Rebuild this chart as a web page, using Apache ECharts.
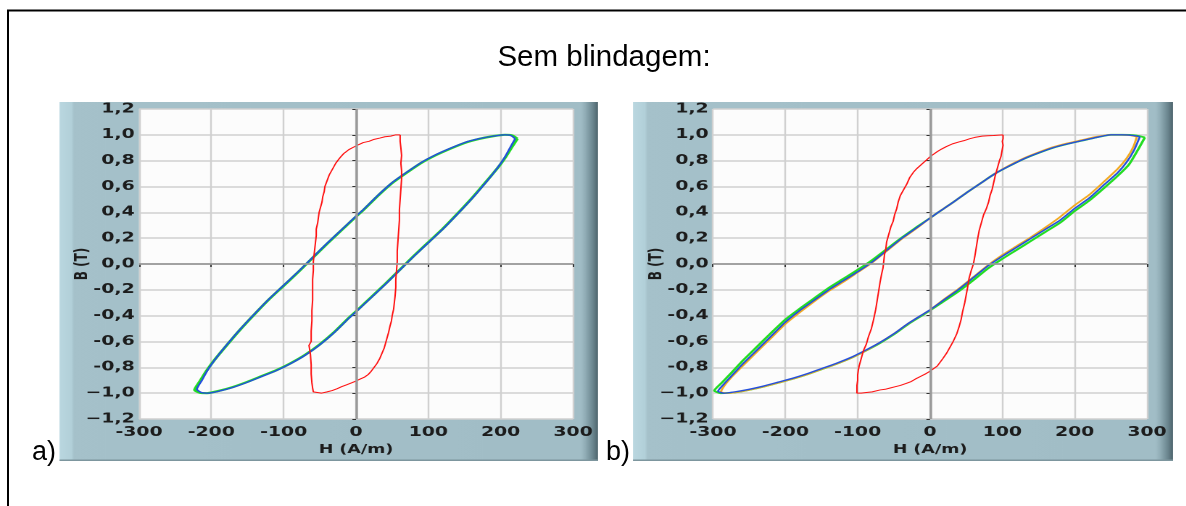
<!DOCTYPE html>
<html><head><meta charset="utf-8">
<script src="https://cdn.jsdelivr.net/npm/echarts@6/dist/echarts.min.js"></script>
<style>
html,body{margin:0;padding:0;background:#fff;overflow:hidden;}
#bg{position:absolute;left:0;top:0;width:1186px;height:506px;}
#plots{position:absolute;left:0;top:0;width:818px;height:506px;transform-origin:0 0;transform:scaleX(1.45);}
</style></head><body>
<div id="bg"></div><div id="plots"></div>
<script>
// ---------- texts ----------
const titleText = 'Sem blindagem:';
const panelLabels = ['a)', 'b)'];
const xName = 'H (A/m)';
const yName = 'B (T)';
const xTickLabels = ['-300','-200','-100','0','100','200','300'];
const yTickLabels = ['\u22121,2','\u22121,0','-0,8','-0,6','-0,4','-0,2','0,0','0,2','0,4','0,6','0,8','1,0','1,2'];

// ---------- chart a) ----------
const aBlueH = [220,214,205,190,170,150,130,110,90,70,50,30,10,0,-20,-40,-60,-80,-100,-120,-140,-160,-180,-195,-205,-213,-220,
  -214,-205,-190,-170,-150,-130,-110,-90,-70,-50,-30,-10,0,20,40,60,80,100,120,140,160,180,195,205,213,220];
const aBlueB = [0.97,0.995,1.0,0.99,0.97,0.94,0.895,0.845,0.785,0.71,0.63,0.53,0.42,0.37,0.265,0.16,0.05,-0.06,-0.165,-0.27,-0.385,-0.505,-0.635,-0.74,-0.82,-0.9,-0.97,
  -0.995,-1.0,-0.985,-0.955,-0.915,-0.87,-0.825,-0.77,-0.705,-0.625,-0.53,-0.42,-0.37,-0.265,-0.16,-0.05,0.06,0.165,0.27,0.385,0.505,0.635,0.74,0.82,0.9,0.97];
const aGreenH = [223,216,206,190,170,150,130,110,90,70,50,30,10,0,-20,-40,-60,-80,-100,-120,-140,-160,-180,-196,-207,-216,-223,
  -216,-206,-190,-170,-150,-130,-110,-90,-70,-50,-30,-10,0,20,40,60,80,100,120,140,160,180,196,207,216,223];
const aGreenB = [0.97,0.995,1.0,0.99,0.968,0.937,0.892,0.842,0.782,0.707,0.627,0.527,0.417,0.367,0.262,0.157,0.047,-0.063,-0.168,-0.272,-0.387,-0.507,-0.637,-0.745,-0.83,-0.91,-0.975,
  -0.997,-1.0,-0.983,-0.952,-0.912,-0.867,-0.822,-0.767,-0.702,-0.622,-0.527,-0.417,-0.367,-0.262,-0.157,-0.047,0.063,0.168,0.273,0.388,0.508,0.638,0.745,0.83,0.91,0.97];
const aRedH = [61,55,48,40,33,25,18,10,4,0,-5,-10,-14,-17,-21,-24,-28,-31,-34,-37,-39,-41,-43,-44,-46,-47,-49,-51,-52,-53,-55,-55,-56,-57,-58,-59,-59,-60,-60,-60,-61,-61,-62,-62,-65,-62,-63,-62,-62,-61,-60,-59,-55,-48,
  -40,-33,-26,-20,-13,-6,0,6,12,17,21,25,29,33,36,39,41,43,45,47,49,50,52,53,54,55,55,56,57,57,58,59,60,60,61,62,63,63,62,63,62,61,61];
const aRedB = [1.0,1.0,0.99,0.985,0.975,0.965,0.95,0.94,0.925,0.915,0.9,0.885,0.87,0.855,0.83,0.81,0.78,0.75,0.72,0.69,0.66,0.63,0.6,0.56,0.52,0.48,0.44,0.4,0.36,0.32,0.27,0.22,0.17,0.12,0.07,0.02,-0.05,-0.12,-0.2,-0.28,-0.36,-0.44,-0.52,-0.6,-0.63,-0.64,-0.7,-0.78,-0.85,-0.92,-0.96,-0.99,-1.0,-1.0,
  -0.99,-0.98,-0.965,-0.95,-0.935,-0.92,-0.906,-0.89,-0.875,-0.855,-0.83,-0.8,-0.77,-0.73,-0.69,-0.65,-0.61,-0.57,-0.53,-0.48,-0.44,-0.4,-0.35,-0.3,-0.25,-0.18,-0.12,-0.05,0.02,0.1,0.18,0.26,0.34,0.42,0.5,0.58,0.66,0.72,0.78,0.84,0.9,0.95,1.0];

// ---------- chart b) ----------
const bBlueH = [290,280,265,250,230,210,190,170,150,130,110,90,70,50,30,10,0,-20,-40,-60,-80,-100,-120,-140,-160,-180,-200,-220,-240,-260,-275,-285,-293,
  -285,-270,-250,-230,-210,-190,-170,-150,-130,-110,-90,-70,-50,-30,-10,0,20,40,60,80,100,120,140,160,180,200,220,240,260,272,282,290];
const bBlueB = [0.985,0.995,1.0,1.0,0.98,0.955,0.93,0.9,0.86,0.815,0.76,0.7,0.625,0.55,0.47,0.395,0.355,0.275,0.195,0.105,0.015,-0.06,-0.13,-0.2,-0.28,-0.36,-0.45,-0.56,-0.67,-0.78,-0.87,-0.93,-0.985,
  -1.0,-0.99,-0.97,-0.945,-0.915,-0.885,-0.85,-0.81,-0.77,-0.725,-0.67,-0.61,-0.54,-0.46,-0.39,-0.355,-0.275,-0.195,-0.105,-0.015,0.06,0.13,0.2,0.27,0.34,0.43,0.51,0.61,0.71,0.79,0.88,0.985];
const bGreenH = [297,285,265,250,230,210,190,170,150,130,110,90,70,50,30,10,0,-20,-40,-60,-80,-100,-120,-140,-160,-180,-200,-220,-240,-260,-275,-288,-298,
  -290,-270,-250,-230,-210,-190,-170,-150,-130,-110,-90,-70,-50,-30,-10,0,20,40,60,80,100,120,140,160,180,200,220,240,260,275,287,297];
const bGreenB = [0.98,0.995,1.0,1.0,0.98,0.955,0.93,0.9,0.86,0.815,0.76,0.7,0.625,0.55,0.47,0.395,0.355,0.28,0.2,0.115,0.03,-0.045,-0.115,-0.185,-0.265,-0.345,-0.43,-0.535,-0.645,-0.755,-0.845,-0.92,-0.98,
  -1.0,-0.995,-0.975,-0.95,-0.92,-0.89,-0.855,-0.815,-0.775,-0.73,-0.675,-0.615,-0.545,-0.465,-0.395,-0.36,-0.285,-0.21,-0.125,-0.035,0.04,0.11,0.18,0.25,0.32,0.41,0.49,0.585,0.685,0.77,0.88,0.98];
const bOrangeH = [286,276,262,248,230,210,190,170,150,130,110,90,70,50,30,10,0,-20,-40,-60,-80,-100,-120,-140,-160,-180,-200,-220,-240,-260,-275,-284,-289,
  -282,-270,-250,-230,-210,-190,-170,-150,-130,-110,-90,-70,-50,-30,-10,0,20,40,60,80,100,120,140,160,180,200,220,240,260,272,281,286];
const bOrangeB = [0.985,0.997,1.0,1.0,0.985,0.96,0.935,0.905,0.865,0.82,0.765,0.7,0.625,0.55,0.47,0.395,0.355,0.27,0.19,0.1,0.01,-0.065,-0.14,-0.21,-0.29,-0.375,-0.465,-0.575,-0.685,-0.795,-0.88,-0.94,-0.99,
  -1.0,-0.995,-0.975,-0.95,-0.92,-0.89,-0.855,-0.815,-0.775,-0.73,-0.675,-0.61,-0.54,-0.46,-0.39,-0.355,-0.27,-0.19,-0.1,-0.01,0.07,0.14,0.21,0.285,0.365,0.455,0.535,0.635,0.74,0.82,0.905,0.985];
const bRedH = [101,95,88,80,72,62,55,47,40,31,23,16,10,5,0,-6,-12,-18,-23,-28,-32,-36,-41,-44,-46,-49,-51,-54,-56,-58,-60,-61,-63,-64,-65,-67,-69,-71,-73,-75,-78,-81,-85,-88,-92,-94,-96,-98,-99,-100,-100,-101,-101,-101,
  -95,-88,-80,-69,-62,-55,-48,-41,-33,-26,-20,-13,-6,0,5,10,14,18,23,28,32,37,40,43,45,48,50,52,54,57,60,62,64,66,68,71,74,78,81,83,86,88,90,92,94,96,98,99,100,101,100,101,101];
const bRedB = [1.0,0.998,0.995,0.993,0.99,0.98,0.97,0.955,0.945,0.93,0.91,0.89,0.87,0.85,0.83,0.8,0.77,0.74,0.71,0.67,0.62,0.58,0.53,0.48,0.43,0.38,0.33,0.29,0.25,0.21,0.17,0.12,0.07,0.02,-0.03,-0.08,-0.14,-0.21,-0.28,-0.35,-0.43,-0.5,-0.56,-0.62,-0.67,-0.71,-0.75,-0.79,-0.82,-0.86,-0.9,-0.94,-0.97,-1.0,
  -1.0,-0.995,-0.99,-0.975,-0.97,-0.96,-0.95,-0.94,-0.925,-0.91,-0.89,-0.87,-0.85,-0.83,-0.81,-0.79,-0.76,-0.73,-0.69,-0.64,-0.6,-0.54,-0.49,-0.43,-0.37,-0.3,-0.24,-0.18,-0.11,-0.05,0.0,0.06,0.13,0.2,0.26,0.32,0.38,0.43,0.48,0.53,0.58,0.63,0.68,0.72,0.76,0.8,0.83,0.86,0.89,0.92,0.95,0.97,1.0];

// ---------- helpers ----------
const S = 1.45; // horizontal stretch of the plot images
const L = x => x / S;
const pairs = (H, B) => H.map((h, i) => [h, B[i]]);
const labelFont = 'DejaVu Sans';

// background: border, title, panel letters
const bg = echarts.init(document.getElementById('bg'));
bg.setOption({
  animation: false,
  graphic: [
    { type: 'line', shape: { x1: 7, y1: 10.5, x2: 1186, y2: 10.5 }, style: { stroke: '#000', lineWidth: 2 } },
    { type: 'line', shape: { x1: 8, y1: 10, x2: 8, y2: 506 }, style: { stroke: '#000', lineWidth: 2 } },
    { type: 'text', x: 604, y: 58, style: { text: titleText, font: '29.5px "Liberation Sans"', fill: '#000', align: 'center', verticalAlign: 'middle' } },
    { type: 'text', x: 32, y: 453, style: { text: panelLabels[0], font: '27px "Liberation Sans"', fill: '#000', align: 'left', verticalAlign: 'middle' } },
    { type: 'text', x: 606, y: 453, style: { text: panelLabels[1], font: '27px "Liberation Sans"', fill: '#000', align: 'left', verticalAlign: 'middle' } }
  ]
});

// plots
const plots = echarts.init(document.getElementById('plots'), null, { devicePixelRatio: 2 });
const panelGrad = () => new echarts.graphic.LinearGradient(0, 0, 1, 0, [
  { offset: 0, color: '#bad7e0' }, { offset: 0.022, color: '#b2d0d9' }, { offset: 0.027, color: '#a5c1ca' },
  { offset: 0.968, color: '#a1bdc6' }, { offset: 0.976, color: '#92aeb7' }, { offset: 0.99, color: '#6c8790' }, { offset: 1, color: '#4d646c' }
]);
function panel(x0, x1) {
  return [
    { type: 'rect', z: -10, shape: { x: L(x0), y: 102, width: L(x1 - x0), height: 359 }, style: { fill: panelGrad() } },
    { type: 'rect', z: -9, shape: { x: L(x0), y: 459.5, width: L(x1 - x0), height: 1.5 }, style: { fill: '#7d969e' } }
  ];
}
const grids = [
  { left: L(139), top: 109, width: L(434), height: 310 },
  { left: L(713), top: 109, width: L(434), height: 310 }
].map(g => Object.assign(g, { show: true, backgroundColor: '#fcfcfc', borderWidth: 0, containLabel: false }));

const tickFont = { fontFamily: labelFont, fontSize: 13, fontWeight: 'bold', color: '#1c1c1c' };
function xAx(gi) {
  return {
    gridIndex: gi, type: 'value', min: -300, max: 300, interval: 100,
    name: xName, nameLocation: 'middle', nameGap: 25, nameMoveOverlap: false,
    nameTextStyle: { fontFamily: labelFont, fontSize: 12, fontWeight: 'bold', color: '#1c1c1c' },
    axisLine: { show: false },
    axisTick: { show: true, length: 3, lineStyle: { color: '#333' } },
    axisLabel: Object.assign({ margin: 7, formatter: v => xTickLabels[Math.round((v + 300) / 100)] }, tickFont),
    splitLine: { show: true, lineStyle: { color: '#d0d0d0', width: 1.2 } }
  };
}
function yAx(gi) {
  return {
    gridIndex: gi, type: 'value', min: -1.2, max: 1.2, interval: 0.2,
    name: yName, nameLocation: 'middle', nameGap: 33, nameMoveOverlap: false,
    nameTextStyle: { fontFamily: labelFont, fontSize: 12, fontWeight: 'bold', color: '#1c1c1c' },
    axisLine: { show: false },
    axisTick: { show: true, length: 2.5, lineStyle: { color: '#333' } },
    axisLabel: Object.assign({ margin: 3, formatter: v => yTickLabels[Math.round((v + 1.2) / 0.2)] }, tickFont),
    splitLine: { show: true, lineStyle: { color: '#d0d0d0', width: 1.6 } }
  };
}
function loop(gi, H, B, color, width, smooth, zeroLines) {
  const s = {
    type: 'line', xAxisIndex: gi, yAxisIndex: gi, data: pairs(H, B),
    showSymbol: false, symbol: 'none', smooth: smooth, silent: true,
    lineStyle: { color: color, width: width }
  };
  if (zeroLines) {
    s.markLine = { silent: true, symbol: 'none', label: { show: false }, animation: false,
      lineStyle: { color: '#999', width: 1.7, type: 'solid' },
      data: [{ xAxis: 0 }, { yAxis: 0 }] };
  }
  return s;
}
plots.setOption({
  animation: false,
  backgroundColor: 'transparent',
  graphic: [...panel(59.5, 598), ...panel(633, 1173)],
  grid: grids,
  xAxis: [xAx(0), xAx(1)],
  yAxis: [yAx(0), yAx(1)],
  series: [
    loop(0, aGreenH, aGreenB, '#22dd22', 2.2, 0.2, true),
    loop(0, aBlueH, aBlueB, '#2450dc', 1.4, 0.2, false),
    loop(0, aRedH, aRedB, '#ff1010', 1, false, false),
    loop(1, bGreenH, bGreenB, '#22dd22', 1.8, 0.2, true),
    loop(1, bOrangeH, bOrangeB, '#f2aa22', 1.5, 0.2, false),
    loop(1, bBlueH, bBlueB, '#2450dc', 1.4, 0.2, false),
    loop(1, bRedH, bRedB, '#ff1010', 1, false, false)
  ]
});
</script>
</body></html>
